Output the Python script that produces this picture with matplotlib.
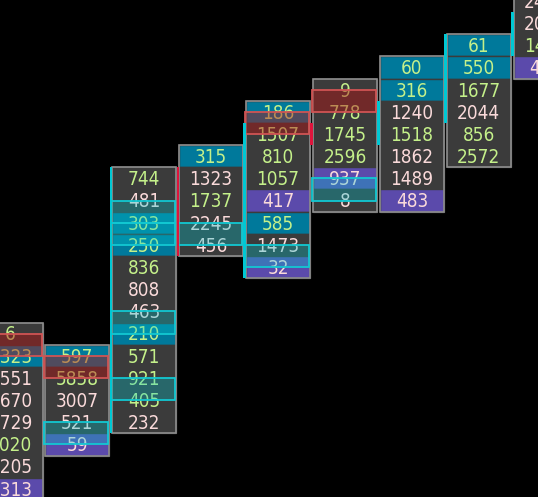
import matplotlib
matplotlib.use("Agg")
import matplotlib.pyplot as plt
from matplotlib.patches import Rectangle

# ---------------- data ----------------
# top price level (row index, increasing downward) of each footprint column
col_top_level = [13, 14, 6, 5, 3, 2, 1, 0, -2]

col0_vol = ["6", "1323", "1551", "1670", "1729", "2020", "1205", "1313"]
col1_vol = ["597", "5858", "3007", "521", "59"]
col2_vol = ["744", "481", "303", "250", "836", "808", "463", "210", "571", "921", "405", "232"]
col3_vol = ["315", "1323", "1737", "2245", "456"]
col4_vol = ["186", "1507", "810", "1057", "417", "585", "1473", "32"]
col5_vol = ["9", "778", "1745", "2596", "937", "8"]
col6_vol = ["60", "316", "1240", "1518", "1862", "1489", "483"]
col7_vol = ["61", "550", "1677", "2044", "856", "2572"]
col8_vol = ["2431", "2061", "1452", "418"]
volumes = [col0_vol, col1_vol, col2_vol, col3_vol, col4_vol, col5_vol, col6_vol, col7_vol, col8_vol]

# text tone per cell: g = buy-dominant (green), p = sell-dominant (pink)
col0_tone = "ggpppgpp"
col1_tone = "ggppp"
col2_tone = "gpgggppggggp"
col3_tone = "gpgpp"
col4_tone = "ggggpgpp"
col5_tone = "ggggpp"
col6_tone = "ggpgppp"
col7_tone = "gggpgg"
col8_tone = "ppgp"
tones = [col0_tone, col1_tone, col2_tone, col3_tone, col4_tone, col5_tone, col6_tone, col7_tone, col8_tone]

# cell highlight: n = none, t = teal, u = purple
col0_hl = "ntnnnnnu"
col1_hl = "tnnnu"
col2_hl = "nnttnnntnnnn"
col3_hl = "tnnnn"
col4_hl = "tnnnutnu"
col5_hl = "nnnnun"
col6_hl = "ttnnnnu"
col7_hl = "ttnnnn"
col8_hl = "nnnu"
highlights = [col0_hl, col1_hl, col2_hl, col3_hl, col4_hl, col5_hl, col6_hl, col7_hl, col8_hl]

# imbalance boxes spanning two adjacent levels: (column, upper level, kind)
box_col = [0, 1, 4, 5, 1, 2, 2, 2, 2, 3, 4, 5]
box_level = [13, 14, 3, 2, 17, 7, 8, 12, 15, 8, 9, 6]
box_kind = ["r", "r", "r", "r", "c", "c", "c", "c", "c", "c", "c", "c"]

# stacked-imbalance side bars: (column, first level, last level, kind)
bar_col = [2, 3, 4, 5, 6, 7, 8]
bar_first = [6, 6, 4, 4, 3, 0, -1]
bar_last = [17, 9, 10, 4, 4, 3, 0]
bar_kind = ["c", "r", "c", "r", "c", "c", "c"]

# ---------------- style ----------------
BG = "#000000"
CELL = "#3b3b3b"
TEAL = "#00799b"
PURPLE = "#5b4aab"
BORDER = "#8e8e8e"
GREEN = "#c4f08a"
PINK = "#fadada"
HL = {"n": CELL, "t": TEAL, "u": PURPLE}
TONE = {"g": GREEN, "p": PINK}
BOX_FACE = {"r": (0.70, 0.08, 0.08, 0.45), "c": (0.0, 0.80, 0.83, 0.31)}
BOX_EDGE = {"r": "#d05454", "c": "#12c8d2"}
BAR = {"r": "#e0143c", "c": "#00c8d4"}

W, H = 538, 497
fig = plt.figure(figsize=(W / 100, H / 100), dpi=100, facecolor=BG)
ax = fig.add_axes([0, 0, 1, 1])
ax.set_facecolor(BG)
ax.axis("off")

col_pitch_px = 66.88
row_px = 22.17
x_left_px = 10.54
y_top_px = 34.3
ax.set_xlim(-x_left_px / col_pitch_px, (W - x_left_px) / col_pitch_px)
ax.set_ylim((H - y_top_px) / row_px, -y_top_px / row_px)

half_w = 32 / col_pitch_px
bar_w = 2.6 / col_pitch_px

for ci, (top, vols, tn, hl) in enumerate(zip(col_top_level, volumes, tones, highlights)):
    left = ci - half_w
    for j, (v, t, h) in enumerate(zip(vols, tn, hl)):
        lvl = top + j
        ax.add_patch(Rectangle((left, lvl), 2 * half_w, 1, facecolor=HL[h],
                               edgecolor=CELL, linewidth=1.0, zorder=1))
        ax.text(ci, lvl + 0.81, v, color=TONE[t], ha="center", va="baseline",
                fontsize=13.6, family="DejaVu Sans", fontstretch="condensed",
                zorder=2, clip_on=True)
    ax.add_patch(Rectangle((left, top), 2 * half_w, len(vols), facecolor="none",
                           edgecolor=BORDER, linewidth=1.2, zorder=4))

for c, lv, k in zip(box_col, box_level, box_kind):
    ax.add_patch(Rectangle((c - half_w - 1 / col_pitch_px, lv + 0.5), 2 * half_w, 1,
                           facecolor=BOX_FACE[k], edgecolor=BOX_EDGE[k],
                           linewidth=1.3, zorder=5))

for c, a, b, k in zip(bar_col, bar_first, bar_last, bar_kind):
    ax.add_patch(Rectangle((c - half_w - bar_w, a), bar_w, b - a + 1,
                           facecolor=BAR[k], edgecolor="none", zorder=6))

fig.savefig("out.png", dpi=100, facecolor=BG)
